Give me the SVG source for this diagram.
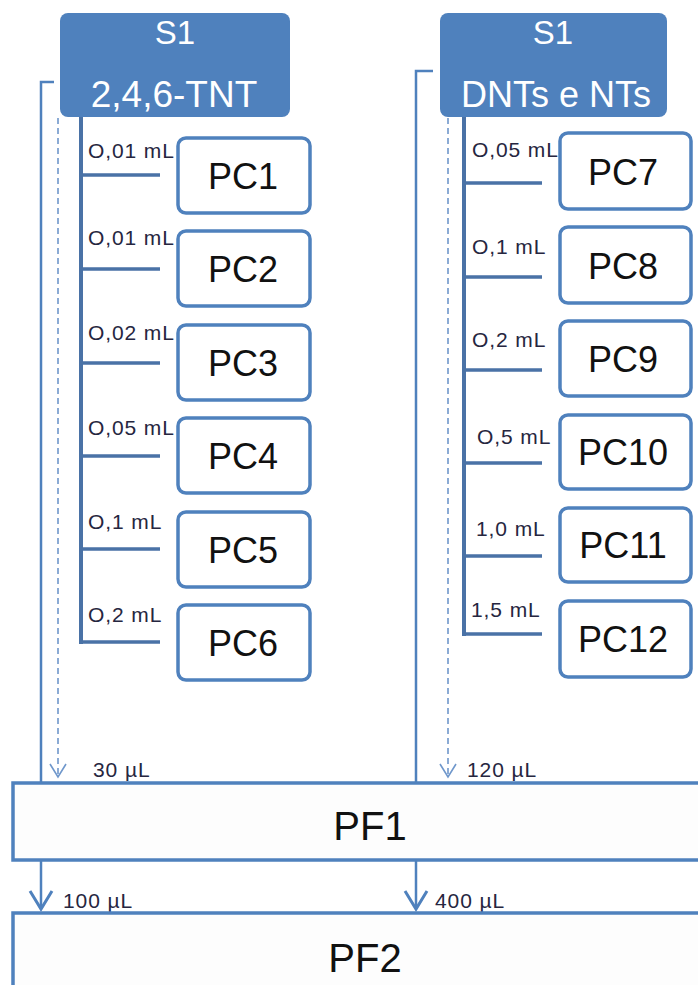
<svg xmlns="http://www.w3.org/2000/svg" width="698" height="985" viewBox="0 0 698 985">
<defs>
<style>
.src{fill:#4F81BD;}
.srct{fill:#FFFFFF;font-family:"Liberation Sans",Arial,sans-serif;text-anchor:middle;}
.pc{fill:#FFFFFF;stroke:#4F81BD;stroke-width:3.5;}
.pct{fill:#111111;font-family:"Liberation Sans",Arial,sans-serif;font-size:36px;text-anchor:middle;}
.pf{fill:#FDFDFD;stroke:#4F81BD;stroke-width:3.5;}
.pft{fill:#111111;font-family:"Liberation Sans",Arial,sans-serif;font-size:40px;text-anchor:middle;}
.lbl{fill:#262640;font-family:"Liberation Sans",Arial,sans-serif;font-size:21px;letter-spacing:0.9px;}
.tree{fill:none;stroke:#4A72A6;stroke-width:4;}
.br{fill:none;stroke:#4A72A6;stroke-width:3.5;}
.solid{fill:none;stroke:#4F81BD;stroke-width:2.5;}
.dash{fill:none;stroke:#6F97CB;stroke-width:1.6;stroke-dasharray:6 4;}
</style>
<marker id="openArrow" markerUnits="userSpaceOnUse" markerWidth="30" markerHeight="30" refX="0" refY="0" orient="auto" overflow="visible">
<path d="M-18,-11 L0,0 L-18,11" fill="none" stroke="#4F81BD" stroke-width="3"/>
</marker>
<marker id="dashArrow" markerUnits="userSpaceOnUse" markerWidth="20" markerHeight="20" refX="0" refY="0" orient="auto" overflow="visible">
<path d="M-13,-8 L0,0 L-13,8" fill="none" stroke="#6F97CB" stroke-width="1.6"/>
</marker>
</defs>
<rect width="698" height="985" fill="#FFFFFF"/>

<g id="connectors">
<path class="solid" d="M54,82 H41 V783"/>
<path class="solid" d="M433,71 H416 V783"/>
<path class="dash" d="M58,118 V777" marker-end="url(#dashArrow)"/>
<path class="dash" d="M448,118 V777" marker-end="url(#dashArrow)"/>
<path class="solid" d="M41,861 V909" marker-end="url(#openArrow)"/>
<path class="solid" d="M416,861 V909" marker-end="url(#openArrow)"/>
<path class="tree" d="M81,117 V644"/>
<path class="br" d="M81,175 H160 M81,269 H160 M81,363 H160 M81,456 H160 M81,549 H160 M81,642 H160"/>
<path class="tree" d="M464,117 V636"/>
<path class="br" d="M464,183 H542 M464,277 H542 M464,370 H542 M464,463 H542 M464,556 H542 M464,634 H542"/>
</g>

<g id="labels">
<text class="lbl" x="88" y="158">O,01 mL</text>
<text class="lbl" x="88" y="245">O,01 mL</text>
<text class="lbl" x="88" y="340">O,02 mL</text>
<text class="lbl" x="88" y="435">O,05 mL</text>
<text class="lbl" x="88" y="529">O,1 mL</text>
<text class="lbl" x="88" y="622">O,2 mL</text>
<text class="lbl" x="472" y="157">O,05 mL</text>
<text class="lbl" x="472" y="254">O,1 mL</text>
<text class="lbl" x="472" y="347">O,2 mL</text>
<text class="lbl" x="477" y="444">O,5 mL</text>
<text class="lbl" x="476" y="536">1,0 mL</text>
<text class="lbl" x="471" y="617">1,5 mL</text>
<text class="lbl" x="93" y="777">30 µL</text>
<text class="lbl" x="467" y="777">120 µL</text>
<text class="lbl" x="63" y="908">100 µL</text>
<text class="lbl" x="435" y="908">400 µL</text>
</g>

<g id="S1-TNT">
<rect class="src" x="60" y="13" width="230" height="104" rx="8"/>
<text class="srct" x="175" y="44" font-size="33">S1</text>
<text class="srct" x="174" y="107" font-size="37">2,4,6-TNT</text>
</g>
<g id="S1-DNTs">
<rect class="src" x="440" y="13" width="227" height="104" rx="8"/>
<text class="srct" x="553" y="44" font-size="33">S1</text>
<text class="srct" x="556" y="107" font-size="36">DNTs e NTs</text>
</g>

<g id="PC1"><rect class="pc" x="178" y="138" width="132" height="75" rx="8"/><text class="pct" x="243" y="189">PC1</text></g>
<g id="PC2"><rect class="pc" x="178" y="231" width="132" height="75" rx="8"/><text class="pct" x="243" y="282">PC2</text></g>
<g id="PC3"><rect class="pc" x="178" y="325" width="132" height="75" rx="8"/><text class="pct" x="243" y="376">PC3</text></g>
<g id="PC4"><rect class="pc" x="178" y="418" width="132" height="75" rx="8"/><text class="pct" x="243" y="469">PC4</text></g>
<g id="PC5"><rect class="pc" x="178" y="512" width="132" height="75" rx="8"/><text class="pct" x="243" y="563">PC5</text></g>
<g id="PC6"><rect class="pc" x="178" y="605" width="132" height="75" rx="8"/><text class="pct" x="243" y="656">PC6</text></g>

<g id="PC7"><rect class="pc" x="560" y="133" width="131" height="76" rx="8"/><text class="pct" x="623" y="185">PC7</text></g>
<g id="PC8"><rect class="pc" x="560" y="227" width="131" height="76" rx="8"/><text class="pct" x="623" y="279">PC8</text></g>
<g id="PC9"><rect class="pc" x="560" y="321" width="131" height="75" rx="8"/><text class="pct" x="623" y="372">PC9</text></g>
<g id="PC10"><rect class="pc" x="560" y="415" width="131" height="74" rx="8"/><text class="pct" x="623" y="465">PC10</text></g>
<g id="PC11"><rect class="pc" x="560" y="508" width="131" height="74" rx="8"/><text class="pct" x="623" y="558">PC11</text></g>
<g id="PC12"><rect class="pc" x="560" y="601" width="131" height="76" rx="8"/><text class="pct" x="623" y="652">PC12</text></g>

<g id="PF1"><rect class="pf" x="13" y="783" width="700" height="77"/><text class="pft" x="370" y="840">PF1</text></g>
<g id="PF2"><rect class="pf" x="13" y="913" width="700" height="90"/><text class="pft" x="365" y="972">PF2</text></g>
</svg>
